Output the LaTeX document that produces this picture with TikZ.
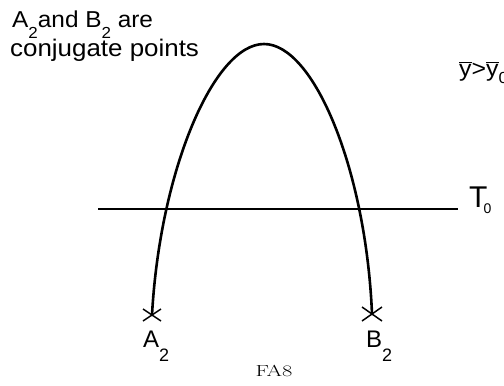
\documentclass[tikz,border=0pt]{standalone}
\usepackage{fontspec}
\setmainfont{Liberation Sans}
\newfontfamily\lmserif{Latin Modern Roman}
\usetikzlibrary{calc}
\newcommand{\lowsub}[3]{\raisebox{-#1}{\fontsize{#2}{#2}\selectfont #3}}
\begin{document}
\begin{tikzpicture}[x=1pt,y=-1pt,
  lbl/.style={inner sep=0pt,anchor=base west},
  curve/.style={line width=2.6pt,line cap=round},
  xmark/.style={line width=1.5pt}]
\useasboundingbox (0,0) rectangle (504,386);
\clip (0,0) rectangle (504,386);
% text top-left
\node[lbl] (t1) at (12,27) {\scalebox{1.06}[1]{\fontsize{23}{26}\selectfont A\lowsub{11pt}{16}{2}and B\lowsub{11pt}{16}{2} are}};
\node[lbl] (t2) at (10,56) {\scalebox{1.08}[1]{\fontsize{24}{26}\selectfont conjugate points}};
% y > y0
\node[lbl] (ycond) at (459,76) {\scalebox{1.08}[1]{\fontsize{23}{26}\selectfont $\overline{\mbox{y}}$>$\overline{\mbox{y}}$\lowsub{7pt}{16}{0}}};
% horizontal line
\coordinate (l0) at (98,209);
\coordinate (l1) at (458,209);
\draw[line width=1.3pt] (l0) -- (l1);
\node[lbl] (T) at (469,207) {\fontsize{30}{30}\selectfont T\kern-4pt\lowsub{6pt}{14}{0}};
% curve
\coordinate (A) at (152,315);
\coordinate (P) at (264,44);
\coordinate (B) at (372,314);
\draw[curve] (A) .. controls (160,170) and (214,44) .. (P)
  .. controls (314,44) and (366,170) .. (B);
% crosses
\draw[xmark] ($(A)+(-9,-6)$) -- ($(A)+(9,6)$) ($(A)+(-9,6)$) -- ($(A)+(9,-6)$);
\draw[xmark] ($(B)+(-10,-7)$) -- ($(B)+(10,7)$) ($(B)+(-10,7)$) -- ($(B)+(10,-7)$);
% labels
\node[lbl] (Al) at (143,347) {\fontsize{24}{26}\selectfont A\lowsub{14pt}{18}{2}};
\node[lbl] (Bl) at (366,347) {\fontsize{24}{26}\selectfont B\lowsub{14pt}{18}{2}};
\node[inner sep=0pt,anchor=base] (cap) at (274,376) {\scalebox{1.4}[1]{\lmserif\fontsize{16}{16}\selectfont FA8}};
\end{tikzpicture}
\end{document}
